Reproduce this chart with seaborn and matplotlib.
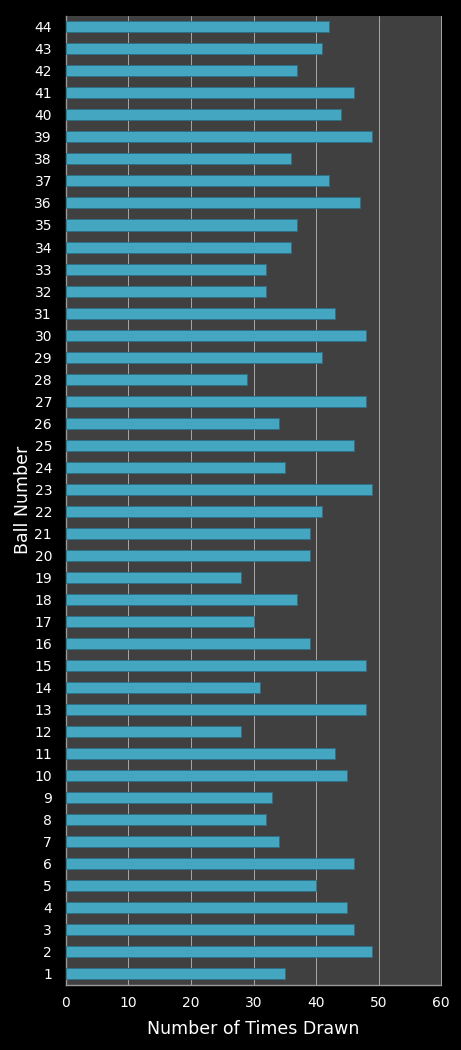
import pandas as pd
import matplotlib
matplotlib.use("Agg")
import matplotlib.pyplot as plt
import seaborn as sns

# Ball numbers 1..44 und wie oft sie gezogen wurden
balls = [str(n) for n in range(1, 45)]
times_drawn = [35, 49, 46, 45, 40, 46, 34, 32, 33, 45,
               43, 28, 48, 31, 48, 39, 30, 37, 28, 39,
               39, 41, 49, 35, 46, 34, 48, 29, 41, 48,
               43, 32, 32, 36, 37, 47, 42, 36, 49, 44,
               46, 37, 41, 42]

df = pd.DataFrame({"ball": balls, "drawn": times_drawn})
order = balls[::-1]   # 44 oben, 1 unten

sns.set_style("dark")
plt.rcParams["font.family"] = ["DejaVu Sans"]

fig = plt.figure(figsize=(4.61, 10.5), dpi=100, facecolor="black")
ax = fig.add_axes([0.143, 0.062, 0.814, 0.923])
ax.set_facecolor("#404040")

sns.barplot(ax=ax, data=df, x="drawn", y="ball", order=order, orient="h",
            color="#45a6c2", saturation=1, width=0.5,
            edgecolor="#2b7188", linewidth=0.6, zorder=3)

ax.set_xlim(0, 60)
ax.set_xticks(range(0, 61, 10))
ax.grid(axis="x", color="#a8a8a8", linewidth=0.7, zorder=0)
ax.grid(axis="y", visible=False)

ax.spines["top"].set_visible(False)
ax.spines["right"].set_color("#a8a8a8")
ax.spines["right"].set_linewidth(0.7)
for side in ["left", "bottom"]:
    ax.spines[side].set_color("#9a9a9a")
    ax.spines[side].set_linewidth(1)

ax.tick_params(colors="white", labelsize=10, length=0)
ax.tick_params(axis="y", pad=10)
ax.tick_params(axis="x", pad=8)
ax.set_xlabel("Number of Times Drawn", color="white", fontsize=12.5, labelpad=7)
ax.set_ylabel("Ball Number", color="white", fontsize=12.5, labelpad=2)

fig.savefig("out.png", dpi=100, facecolor="black")
